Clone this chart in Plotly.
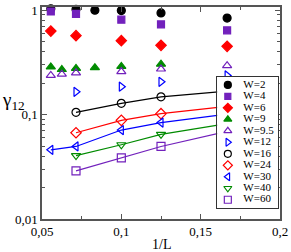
import plotly.graph_objects as go

# ---- data (L values, x = 1/L) ----
names = ["W=2", "W=4", "W=6", "W=9", "W=9.5", "W=12", "W=16", "W=24", "W=30", "W=40", "W=60"]
L_W2 = [18, 14, 12, 10, 8, 6]
g_W2 = [1.03, 1.02, 1.0, 0.99, 0.94, 0.84]
L_W4 = [18, 14, 10, 8, 6]
g_W4 = [0.97, 0.92, 0.81, 0.73, 0.64]
L_W6 = [18, 14, 10, 8, 6]
g_W6 = [0.63, 0.57, 0.51, 0.46, 0.45]
L_W9 = [18, 16, 14, 12, 10, 8]
g_W9 = [0.286, 0.270, 0.277, 0.281, 0.289, 0.304]
L_W95 = [18, 16, 14, 10, 8, 6]
g_W95 = [0.237, 0.244, 0.251, 0.258, 0.273, 0.294]
L_W12 = [14, 10, 8, 6]
g_W12 = [0.165, 0.185, 0.206, 0.237]
L_W16 = [14, 10, 8, 6]
g_W16 = [0.105, 0.128, 0.148, 0.168]
L_W24 = [14, 10, 8, 6]
g_W24 = [0.067, 0.088, 0.102, 0.120]
L_W30 = [18, 14, 10, 8, 6]
g_W30 = [0.046, 0.0495, 0.0711, 0.0838, 0.101]
L_W40 = [14, 10, 8, 6]
g_W40 = [0.0405, 0.0514, 0.0646, 0.0818]
L_W60 = [14, 10, 8, 6]
g_W60 = [0.0289, 0.0385, 0.0495, 0.069]

x_ticks = [0.05, 0.1, 0.15, 0.2]
x_ticktext = ["0,05", "0,1", "0,15", "0,2"]
y_ticks = [0.01, 0.1, 1]
y_ticktext = ["0,01", "0,1", "1"]

BLACK = "#000000"
RED = "#ff0000"
GREEN = "#008b00"
BLUE = "#0000ff"
INDIGO = "#7221bc"

series = [
    (L_W2, g_W2, "circle", BLACK, False),
    (L_W4, g_W4, "square", INDIGO, False),
    (L_W6, g_W6, "diamond", RED, False),
    (L_W9, g_W9, "triangle-up", GREEN, False),
    (L_W95, g_W95, "triangle-up-open", INDIGO, False),
    (L_W12, g_W12, "triangle-right-open", BLUE, False),
    (L_W16, g_W16, "circle-open", BLACK, True),
    (L_W24, g_W24, "diamond-open", RED, True),
    (L_W30, g_W30, "triangle-left-open", BLUE, True),
    (L_W40, g_W40, "triangle-down-open", GREEN, True),
    (L_W60, g_W60, "square-open", INDIGO, True),
]
sizes = {"circle": 8, "square": 7, "diamond": 8, "triangle-up": 8}

FONT = "Liberation Serif"

fig = go.Figure()
for name, (Ls, gs, sym, col, line) in zip(names, series):
    fig.add_trace(go.Scatter(
        x=[1.0 / l for l in Ls], y=gs, name=name,
        mode="lines+markers" if line else "markers",
        line=dict(color=col, width=1.2),
        marker=dict(symbol=sym, color=col, size=sizes.get(sym, 8),
                    line=dict(color=col, width=1.2)),
        showlegend=False, xaxis="x", yaxis="y", cliponaxis=False,
    ))

# manual compact legend in an inset axis
idx = list(range(len(names)))
for i, (name, (Ls, gs, sym, col, line)) in enumerate(zip(names, series)):
    fig.add_trace(go.Scatter(
        x=[0.175], y=[i], mode="markers",
        marker=dict(symbol=sym, color=col, size=sizes.get(sym, 8) - 1,
                    line=dict(color=col, width=1.2)),
        showlegend=False, xaxis="x2", yaxis="y2", hoverinfo="skip",
    ))
fig.add_trace(go.Scatter(
    x=[0.43] * len(names), y=idx, mode="text", text=names,
    textposition="middle right",
    textfont=dict(family=FONT, size=11, color="black"),
    showlegend=False, xaxis="x2", yaxis="y2", hoverinfo="skip",
))

axcol = "#555555"
fig.update_layout(
    width=291, height=252,
    margin=dict(l=42, r=10, t=3, b=33),
    paper_bgcolor="white", plot_bgcolor="white",
    separators=",.",
    font=dict(family=FONT, size=13, color="black"),
    showlegend=False,
    xaxis=dict(
        range=[0.05, 0.2], tickvals=x_ticks, ticktext=x_ticktext,
        ticks="inside", ticklen=5, tickcolor=axcol, tickwidth=1,
        showline=True, linecolor=axcol, linewidth=1.5, mirror="allticks",
        showgrid=False, zeroline=False,
        tickfont=dict(family=FONT, size=13),
        minor=dict(tickvals=[0.075, 0.125, 0.175], ticks="inside", ticklen=3,
                   tickcolor=axcol, showgrid=False),
    ),
    yaxis=dict(
        type="log", range=[-2, 0.03], tickvals=y_ticks, ticktext=y_ticktext,
        ticks="inside", ticklen=5, tickcolor=axcol, tickwidth=1,
        showline=True, linecolor=axcol, linewidth=1.5, mirror="allticks",
        showgrid=False, zeroline=False,
        tickfont=dict(family=FONT, size=13),
        minor=dict(tickvals=[m * d for d in (0.01, 0.1) for m in range(2, 10)],
                   ticks="inside", ticklen=3, tickcolor=axcol, showgrid=False),
    ),
    xaxis2=dict(domain=[0.736, 0.992], range=[0, 1], anchor="y2",
                showticklabels=False, ticks="", showgrid=False, zeroline=False,
                showline=True, linecolor="#333333", linewidth=1, mirror=True),
    yaxis2=dict(domain=[0.054, 0.671], range=[10.68, -0.71], anchor="x2",
                showticklabels=False, ticks="", showgrid=False, zeroline=False,
                showline=True, linecolor="#333333", linewidth=1, mirror=True),
    annotations=[
        dict(text="γ<sub>12</sub>", xref="paper", yref="paper",
             x=-0.175, y=0.555, xanchor="left", yanchor="middle",
             showarrow=False, font=dict(family=FONT, size=19)),
        dict(text="1/L", xref="paper", yref="paper",
             x=0.502, y=-0.118, xanchor="center", yanchor="middle",
             showarrow=False, font=dict(family=FONT, size=14)),
    ],
)

fig.write_html("out.html", config={"displayModeBar": False},
               post_script="document.body.style.margin='0';")
